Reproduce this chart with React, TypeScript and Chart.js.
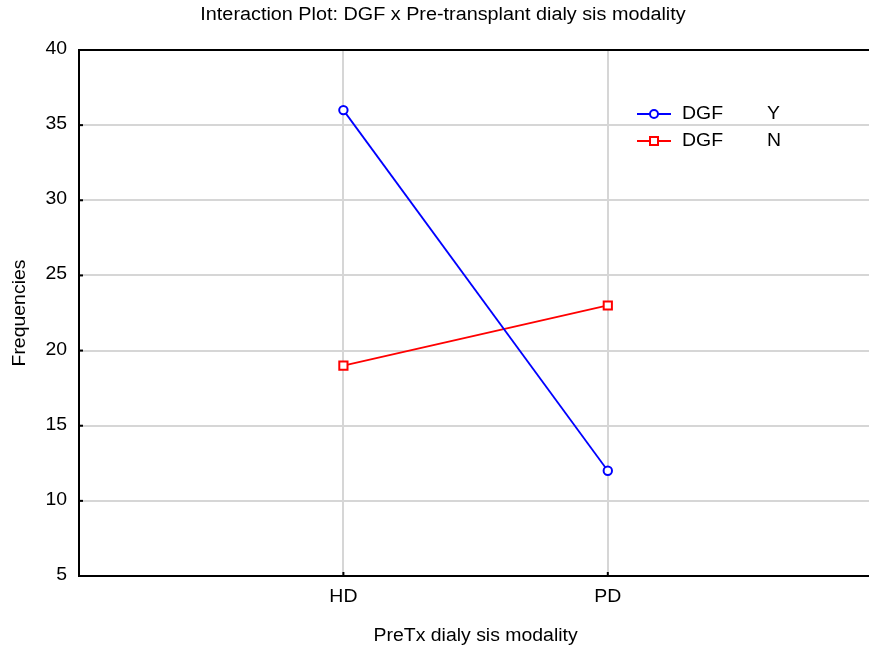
import React, { useEffect, useRef } from "react";
import { Chart, registerables } from "chart.js";

Chart.register(...registerables);

const categories = ["HD", "PD"];
const seriesNames = ["DGF      Y", "DGF      N"];
const dgfY = [36, 12];
const dgfN = [19, 23];
const yTicks = [5, 10, 15, 20, 25, 30, 35, 40];
const chartTitle = "Interaction Plot: DGF x Pre-transplant dialy sis modality";
const xTitle = "PreTx dialy sis modality";
const yTitle = "Frequencies";

const FONT = "Arial, 'Liberation Sans', sans-serif";
const SX = 1.08;

function wideText(ctx: CanvasRenderingContext2D, text: string, x: number, y: number, align: CanvasTextAlign, rot = 0, sx = SX) {
  ctx.save();
  ctx.translate(x, y);
  if (rot) ctx.rotate(rot);
  ctx.scale(sx, 1);
  ctx.textAlign = align;
  ctx.textBaseline = "middle";
  ctx.fillText(text, 0, 0);
  ctx.restore();
}

const framePlugin = {
  id: "frame",
  afterDraw(chart: any) {
    const { ctx, chartArea } = chart;
    const { left, right, top, bottom } = chartArea;
    const ys = chart.scales.y;
    const xs = chart.scales.x;
    ctx.save();
    ctx.strokeStyle = "#000";
    ctx.lineWidth = 2;
    ctx.beginPath();
    ctx.moveTo(left - 1, top);
    ctx.lineTo(right + 10, top);
    ctx.stroke();
    yTicks.forEach((v) => {
      const py = ys.getPixelForValue(v);
      ctx.beginPath();
      ctx.moveTo(left, py);
      ctx.lineTo(left + 4, py);
      ctx.stroke();
    });
    categories.forEach((_, i) => {
      const px = xs.getPixelForValue(i + 1);
      ctx.beginPath();
      ctx.moveTo(px, bottom);
      ctx.lineTo(px, bottom - 4);
      ctx.stroke();
    });

    ctx.fillStyle = "#000";
    ctx.font = "18px " + FONT;
    wideText(ctx, chartTitle, 443, 15, "center", 0, 1.1);
    yTicks.forEach((v) => {
      wideText(ctx, String(v), left - 12, ys.getPixelForValue(v) - 1, "right");
    });
    categories.forEach((c, i) => {
      wideText(ctx, c, xs.getPixelForValue(i + 1), 597, "center");
    });
    wideText(ctx, xTitle, (left + right) / 2, 636, "center");
    wideText(ctx, yTitle, 20, (top + bottom) / 2, "center", -Math.PI / 2);

    const items = [
      { name: seriesNames[0], color: "#0000ff", shape: "circle", y: 114 },
      { name: seriesNames[1], color: "#ff0000", shape: "rect", y: 141 },
    ];
    items.forEach((it) => {
      ctx.strokeStyle = it.color;
      ctx.lineWidth = 1.8;
      ctx.beginPath();
      ctx.moveTo(637, it.y);
      ctx.lineTo(671, it.y);
      ctx.stroke();
      ctx.fillStyle = "#fff";
      ctx.lineWidth = 2;
      ctx.beginPath();
      if (it.shape === "circle") {
        ctx.arc(654, it.y, 4, 0, Math.PI * 2);
      } else {
        ctx.rect(650, it.y - 4, 8, 8);
      }
      ctx.fill();
      ctx.stroke();
      ctx.fillStyle = "#000";
      const parts = it.name.split(/\s+/);
      wideText(ctx, parts[0], 682, it.y, "left");
      wideText(ctx, parts[1], 767, it.y, "left");
    });
    ctx.restore();
  },
};

export default function App() {
  const ref = useRef<HTMLCanvasElement>(null);
  useEffect(() => {
    document.body.style.margin = "0";
    const canvas = ref.current!;
    const chart = new Chart(canvas, {
      type: "line",
      data: {
        datasets: [
          {
            label: seriesNames[0],
            data: dgfY.map((v, i) => ({ x: i + 1, y: v })),
            borderColor: "#0000ff",
            backgroundColor: "#ffffff",
            borderWidth: 1.8,
            pointStyle: "circle",
            pointRadius: 4.2,
            pointBorderWidth: 2,
            pointBorderColor: "#0000ff",
            pointBackgroundColor: "#ffffff",
          },
          {
            label: seriesNames[1],
            data: dgfN.map((v, i) => ({ x: i + 1, y: v })),
            borderColor: "#ff0000",
            backgroundColor: "#ffffff",
            borderWidth: 1.8,
            pointStyle: "rect",
            pointRadius: 5.8,
            pointBorderWidth: 2,
            pointBorderColor: "#ff0000",
            pointBackgroundColor: "#ffffff",
          },
        ],
      },
      options: {
        animation: false,
        responsive: false,
        maintainAspectRatio: false,
        layout: { padding: { left: 0, right: 2, top: 50, bottom: 0 } },
        plugins: {
          legend: { display: false },
          title: { display: false },
          tooltip: { enabled: false },
        },
        scales: {
          x: {
            type: "linear",
            min: 0,
            max: 3,
            afterBuildTicks: (s: any) => {
              s.ticks = categories.map((_, i) => ({ value: i + 1 }));
            },
            afterFit: (s: any) => {
              s.height = 78;
            },
            ticks: { display: false },
            grid: { color: "#d6d6d6", lineWidth: 2, drawTicks: false },
            border: { color: "#000", width: 2 },
          },
          y: {
            type: "linear",
            min: 5,
            max: 40,
            afterBuildTicks: (s: any) => {
              s.ticks = yTicks.map((v) => ({ value: v }));
            },
            afterFit: (s: any) => {
              s.width = 79;
            },
            ticks: { display: false },
            grid: { color: "#d6d6d6", lineWidth: 2, drawTicks: false },
            border: { color: "#000", width: 2 },
          },
        },
      },
      plugins: [framePlugin],
    });
    return () => chart.destroy();
  }, []);
  return (
    <div style={{ position: "relative", width: 869, height: 654, overflow: "hidden" }}>
      <canvas ref={ref} width={880} height={654} style={{ width: 880, height: 654, display: "block" }} />
    </div>
  );
}
